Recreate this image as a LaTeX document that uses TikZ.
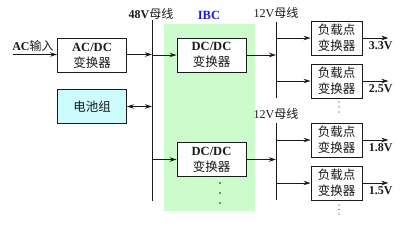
\documentclass[tikz,border=0pt]{standalone}
\usepackage{fontspec}
\setmainfont{Liberation Serif}
\newfontfamily\cjk{Noto Sans CJK SC}
\usetikzlibrary{arrows.meta, calc, positioning}
\definecolor{Ink}    {HTML}{1A1A1A}
\definecolor{IbcF}   {HTML}{CCFCCC}
\definecolor{BatF}   {HTML}{CCFCFC}
\definecolor{IbcT}   {HTML}{1A1ACC}
\newcommand{\zh}[1]{{\cjk\mdseries #1}}
\tikzset{
  blk/.style={
    rectangle, draw=Ink, fill=white, text=Ink,
    font=\fontsize{12.5}{16}\selectfont\bfseries, align=center,
    inner sep=0pt, minimum width=69pt, minimum height=34pt,
    line width=0.9pt,
  },
  pblk/.style={
    blk, minimum width=51pt,
  },
  bus/.style={
    draw=Ink, line width=0.9pt,
  },
  arr/.style={
    -{Stealth[length=7pt,width=4.5pt]},
    line width=0.9pt, color=Ink,
  },
  lbl/.style={
    font=\fontsize{12}{13}\selectfont\bfseries, text=Ink, inner sep=1pt,
  },
  vlbl/.style={
    font=\fontsize{12}{13}\selectfont\bfseries, text=Ink, inner sep=1pt,
  },
  dot/.style={
    fill=Ink,
  },
}
\begin{document}
\begin{tikzpicture}[x=1pt,y=-1pt]
  \useasboundingbox (0,0) rectangle (410,226);
  % IBC region
  \fill[IbcF] (164,24) rectangle (255,211);
  \node[font=\fontsize{12.5}{14}\selectfont\bfseries, text=IbcT] (ibc) at (209,15) {IBC};
  % buses
  \coordinate (b48t) at (152,20);
  \coordinate (b48b) at (152,201);
  \coordinate (b12at) at (276,22);
  \coordinate (b12ab) at (276,98);
  \coordinate (b12bt) at (276,123);
  \coordinate (b12bb) at (276,200);
  \draw[bus] (b48t) -- (b48b);
  \draw[bus] (b12at) -- (b12ab);
  \draw[bus] (b12bt) -- (b12bb);
  \node[lbl] (l48) at (151,14) {48V\zh{母线}};
  \node[lbl, font=\fontsize{12}{13}\selectfont] (l12a) at (276,13) {12V\zh{母线}};
  \node[lbl, font=\fontsize{12}{13}\selectfont] (l12b) at (276,114) {12V\zh{母线}};
  % front end
  \node[lbl] (acin) at (33,46) {AC\zh{输入}};
  \coordinate (acs) at (13,54.5);
  \node[blk] (acdc) at (92,55.5) {AC/DC\\\zh{变换器}};
  \node[blk, fill=BatF] (bat) at (92,106.5) {\zh{电池组}};
  \node[blk] (dc1) at (211.5,55) {DC/DC\\\zh{变换器}};
  \node[blk] (dc2) at (211.5,159.5) {DC/DC\\\zh{变换器}};
  % point of load converters
  \node[pblk] (p1) at (336.5,38) {\zh{负载点}\\\zh{变换器}};
  \node[pblk] (p2) at (336.5,81) {\zh{负载点}\\\zh{变换器}};
  \node[pblk] (p3) at (336.5,140) {\zh{负载点}\\\zh{变换器}};
  \node[pblk] (p4) at (336.5,183) {\zh{负载点}\\\zh{变换器}};
  % continuation dots
  \foreach \yi in {183,193,203}
    \fill[dot] (220,\yi) circle (0.8pt);
  \foreach \yi in {102,107,112}
    \fill[dot] (339,\yi) circle (0.7pt);
  \foreach \yi in {205,209.5,214}
    \fill[dot] (339,\yi) circle (0.7pt);
  % connectors
  \draw[arr] (acs) -- (acs -| acdc.west);
  \draw[arr] (acdc.east |- acs) -- (acs -| b48t);
  \draw[arr,{Stealth[length=7pt,width=4.5pt]}-{Stealth[length=7pt,width=4.5pt]}]
    (bat.east) -- (bat.east -| b48t);
  \draw[arr] (dc1.west -| b48t) -- (dc1.west);
  \draw[arr] (dc2.west -| b48t) -- (dc2.west);
  \draw[arr] (dc1.east) -- (dc1.east -| b12at);
  \draw[arr] (dc2.east) -- (dc2.east -| b12bt);
  \foreach \n in {p1,p2}
    \draw[arr] (\n.west -| b12at) -- (\n.west);
  \foreach \n in {p3,p4}
    \draw[arr] (\n.west -| b12bt) -- (\n.west);
  \foreach \n/\v in {p1/3.3V, p2/2.5V, p3/1.8V, p4/1.5V}
    \draw[arr] (\n.east) -- ++(26,0) node[vlbl, pos=0.7, below=2pt] {\v};
\end{tikzpicture}
\end{document}
